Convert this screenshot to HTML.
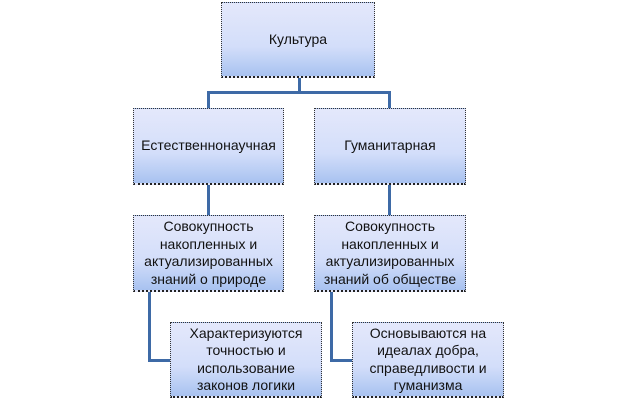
<!DOCTYPE html>
<html><head><meta charset="utf-8"><style>
body{margin:0;width:636px;height:402px;background:#fff;position:relative;overflow:hidden;font-family:"Liberation Sans","DejaVu Sans",sans-serif;}
.b{position:absolute;box-sizing:border-box;border:1px dotted #333;border-bottom:2px dotted #222;background:linear-gradient(#e4e8fb,#d3defa 60%,#a8c2f0);display:flex;align-items:center;justify-content:center;text-align:center;font-size:14px;line-height:17.5px;color:#111;white-space:nowrap;}
.l{position:absolute;background:#3e6aa6;}
</style></head><body>
<div class="l" style="left:298px;top:77px;width:3px;height:16px"></div>
<div class="l" style="left:207px;top:91px;width:184px;height:3px"></div>
<div class="l" style="left:207px;top:91px;width:3px;height:18px"></div>
<div class="l" style="left:388px;top:91px;width:3px;height:18px"></div>
<div class="l" style="left:207px;top:184px;width:3px;height:32px"></div>
<div class="l" style="left:388px;top:184px;width:3px;height:32px"></div>
<div class="l" style="left:148px;top:291px;width:3px;height:71px"></div>
<div class="l" style="left:148px;top:359px;width:23px;height:3px"></div>
<div class="l" style="left:330px;top:291px;width:3px;height:71px"></div>
<div class="l" style="left:330px;top:359px;width:23px;height:3px"></div>
<div class="b" style="left:221px;top:2px;width:154px;height:76px">Культура</div>
<div class="b" style="left:133px;top:108px;width:151px;height:77px">Естественнонаучная</div>
<div class="b" style="left:314px;top:108px;width:152px;height:77px">Гуманитарная</div>
<div class="b" style="left:133px;top:215px;width:151px;height:77px">Совокупность<br>накопленных и<br>актуализированных<br>знаний о природе</div>
<div class="b" style="left:314px;top:215px;width:152px;height:77px">Совокупность<br>накопленных и<br>актуализированных<br>знаний об обществе</div>
<div class="b" style="left:170px;top:322px;width:152px;height:76px">Характеризуются<br>точностью и<br>использование<br>законов логики</div>
<div class="b" style="left:352px;top:322px;width:152px;height:76px">Основываются на<br>идеалах добра,<br>справедливости и<br>гуманизма</div>
</body></html>
